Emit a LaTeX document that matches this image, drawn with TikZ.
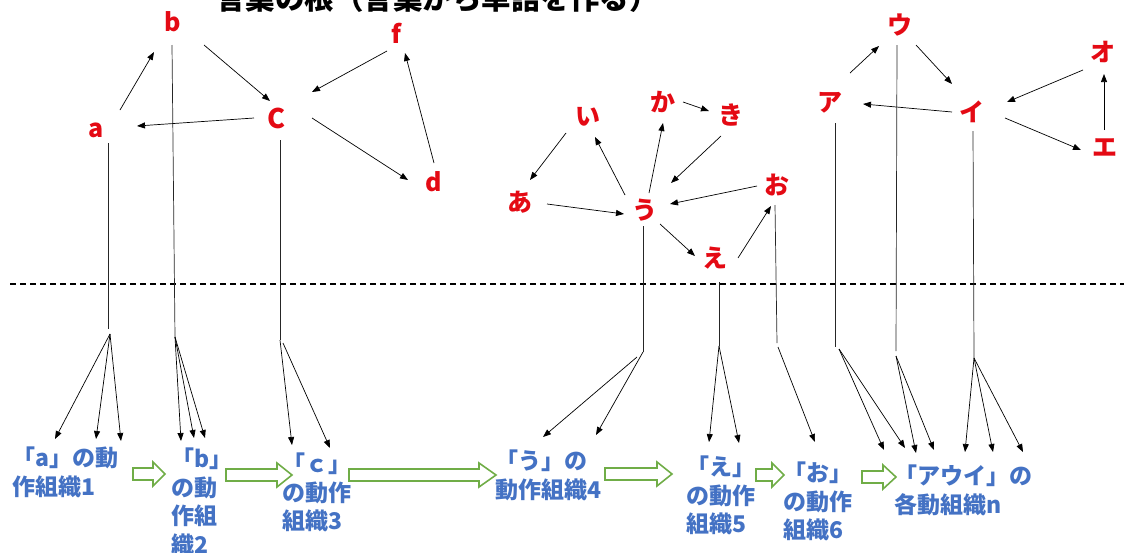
\documentclass[tikz,border=0pt]{standalone}
\usepackage{fontspec}
\newfontfamily\jp{Noto Sans CJK JP}
\usetikzlibrary{arrows.meta,calc}
\definecolor{wred}{RGB}{228,10,20}
\definecolor{wblue}{RGB}{68,114,196}
\definecolor{ggreen}{RGB}{112,173,71}
\begin{document}
\begin{tikzpicture}[x=1pt,y=-1pt,
  word/.style={text=wred, font=\jp\bfseries\fontsize{25}{25}\selectfont, inner sep=0pt},
  ttl/.style={text=black, font=\jp\bfseries\fontsize{29.5}{29.5}\selectfont, inner sep=0pt, anchor=base west},
  lab/.style={text=wblue, font=\jp\bfseries\fontsize{23}{28.5}\selectfont, align=left, anchor=north west, inner sep=0pt},
  arr/.style={-{Triangle[length=8pt,width=6pt]}, line width=0.7pt, black},
  stem/.style={line width=0.7pt, black!85},
  garrow/.style={draw=ggreen, line width=1.6pt, fill=white, line join=miter},
  ground/.style={dashed, dash pattern=on 6pt off 4pt, line width=1.1pt, black}
]
\useasboundingbox (0,0) rectangle (1124,552);
\clip (0,0) rectangle (1124,552);

% title (cut at the top)
\node[ttl] (title) at (216,9) {言葉の根（言葉から単語を作る）};

% ground line
\coordinate (gl) at (10,284);
\coordinate (gr) at (1124,284);
\draw[ground] (gl) -- (gr);

% --- left cluster
\node[word] (a) at (96,130) {a};
\node[word] (b) at (173,22) {b};
\node[word, font=\jp\bfseries\fontsize{27}{27}\selectfont] (C) at (277,118) {C};
\node[word] (f) at (396,33) {f};
\node[word] (d) at (434,182) {d};
\draw[arr] ($(a)+(24,-20)$) -- ($(b)+(-19,30)$);
\draw[arr] ($(b)+(31,23)$) -- ($(C)+(-7,-17)$);
\draw[arr] ($(C)+(-23,0)$) -- ($(a)+(41,-4)$);
\draw[arr] ($(f)+(-9,18)$) -- ($(C)+(35,-26)$);
\draw[arr] ($(C)+(35,0)$) -- ($(d)+(-26,-2)$);
\draw[arr] ($(d)+(0,-19)$) -- ($(f)+(9,20)$);

% --- middle cluster
\node[word] (i) at (588,117) {い};
\node[word] (ka) at (663,102) {か};
\node[word] (ki) at (731,115) {き};
\node[word] (aa) at (520,202) {あ};
\node[word] (u) at (645,210) {う};
\node[word] (o) at (777,185) {お};
\node[word] (e) at (715,258) {え};
\draw[arr] ($(i)+(-22,16)$) -- ($(aa)+(10,-22)$);
\draw[arr] ($(u)+(-20,-15)$) -- ($(i)+(7,20)$);
\draw[arr] ($(u)+(4,-17)$) -- ($(ka)+(0,21)$);
\draw[arr] ($(ka)+(20,0)$) -- ($(ki)+(-22,-4)$);
\draw[arr] ($(ki)+(-10,21)$) -- ($(u)+(26,-27)$);
\draw[arr] ($(aa)+(27,2)$) -- ($(u)+(-21,4)$);
\draw[arr] ($(o)+(-20,1)$) -- ($(u)+(25,-6)$);
\draw[arr] ($(u)+(15,14)$) -- ($(e)+(-20,-2)$);
\draw[arr] ($(e)+(23,0)$) -- ($(o)+(-6,21)$);

% --- right cluster
\node[word] (kA) at (830,103) {ア};
\node[word] (kU) at (900,25) {ウ};
\node[word] (kI) at (972,112) {イ};
\node[word] (kO) at (1103,52) {オ};
\node[word] (kE) at (1105,148) {エ};
\draw[arr] ($(kA)+(20,-30)$) -- ($(kU)+(-21,21)$);
\draw[arr] ($(kU)+(16,20)$) -- ($(kI)+(-20,-28)$);
\draw[arr] ($(kI)+(-20,0)$) -- ($(kA)+(33,1)$);
\draw[arr] ($(kO)+(-20,18)$) -- ($(kI)+(35,-10)$);
\draw[arr] ($(kI)+(33,6)$) -- ($(kE)+(-24,2)$);
\draw[arr] ($(kE)+(-1,-18)$) -- ($(kO)+(1,22)$);

% --- labels (動作組織)
\node[lab] (La) at (12,447) {「a」の動\\作組織1};
\node[lab] (Lb) at (171,448) {「b」\\の動\\作組\\織2};
\node[lab] (Lc) at (282,453) {「ｃ」\\の動作\\組織3};
\node[lab] (L4) at (495,450) {「う」の\\動作組織4};
\node[lab] (L5) at (686,456) {「え」\\の動作\\組織5};
\node[lab] (L6) at (783,462) {「お」\\の動作\\組織6};
\node[lab] (L7) at (894,465) {「アウイ」の\\各動組織n};

% --- green block arrows
\foreach \xa/\xb/\yc/\hl in {133/165/474/12, 226/292/475/15, 349/496/475/17, 605/672/474/15, 756/784/475/12, 862/896/477/13}
  \draw[garrow] (\xa,\yc-6) -- (\xb-\hl,\yc-6) -- (\xb-\hl,\yc-12) -- (\xb,\yc)
     -- (\xb-\hl,\yc+12) -- (\xb-\hl,\yc+6) -- (\xa,\yc+6) -- cycle;

% --- stems and fans
% a
\coordinate (ra) at (108,329);
\coordinate (fa) at (110,334);
\draw[stem] ($(a)+(12,13)$) -- (ra);
\draw[arr] (fa) -- ($(La.north west)+(43,-8)$);
\draw[arr] (fa) -- ($(La.north west)+(84,-8)$);
\draw[arr] (fa) -- ($(La.north west)+(109,-6)$);
% b
\coordinate (rb) at (175,337);
\draw[stem] ($(b)+(-1,23)$) -- (rb);
\draw[arr] (rb) -- ($(Lb.north west)+(10,-7)$);
\draw[arr] (rb) -- ($(Lb.north west)+(23,-10)$);
\draw[arr] (rb) -- ($(Lb.north west)+(34,-10)$);
% C
\coordinate (rc) at (280,340);
\coordinate (fc) at (283,343);
\draw[stem] ($(C)+(3,22)$) -- (rc);
\draw[arr] (rc) -- ($(Lc.north west)+(10,-8)$);
\draw[arr] (fc) -- ($(Lc.north west)+(48,-5)$);
% u
\coordinate (ru) at (643,352);
\coordinate (fu) at (637,357);
\draw[stem] ($(u)+(-2,16)$) -- (ru);
\draw[arr] (fu) -- ($(L4.north west)+(48,-13)$);
\draw[arr] (ru) -- ($(L4.north west)+(101,-15)$);
% e
\coordinate (re) at (719,346);
\draw[stem] ($(e)+(4,24)$) -- (re);
\draw[arr] (re) -- ($(L5.north west)+(23,-14)$);
\draw[arr] (re) -- ($(L5.north west)+(53,-13)$);
% o
\coordinate (ro) at (777,343);
\coordinate (fo) at (778,347);
\draw[stem] ($(o)+(-2,20)$) -- (ro);
\draw[arr] (fo) -- ($(L6.north west)+(32,-20)$);
% A
\coordinate (rA) at (835,347);
\coordinate (fA) at (839,349);
\draw[stem] ($(kA)+(5,20)$) -- (rA);
\draw[arr] (fA) -- ($(L7.north west)+(-10,-15)$);
\draw[arr] (fA) -- ($(L7.north west)+(11,-17)$);
% U
\coordinate (rU) at (896,351);
\coordinate (fU) at (896,356);
\draw[stem] ($(kU)+(-3,20)$) -- (rU);
\draw[arr] (fU) -- ($(L7.north west)+(22,-12)$);
\draw[arr] (fU) -- ($(L7.north west)+(40,-15)$);
% I
\coordinate (rI) at (974,358);
\draw[stem] ($(kI)+(1,19)$) -- (rI);
\draw[arr] (rI) -- ($(L7.north west)+(71,-13)$);
\draw[arr] (rI) -- ($(L7.north west)+(99,-13)$);
\draw[arr] (rI) -- ($(L7.north west)+(129,-13)$);
\end{tikzpicture}
\end{document}
